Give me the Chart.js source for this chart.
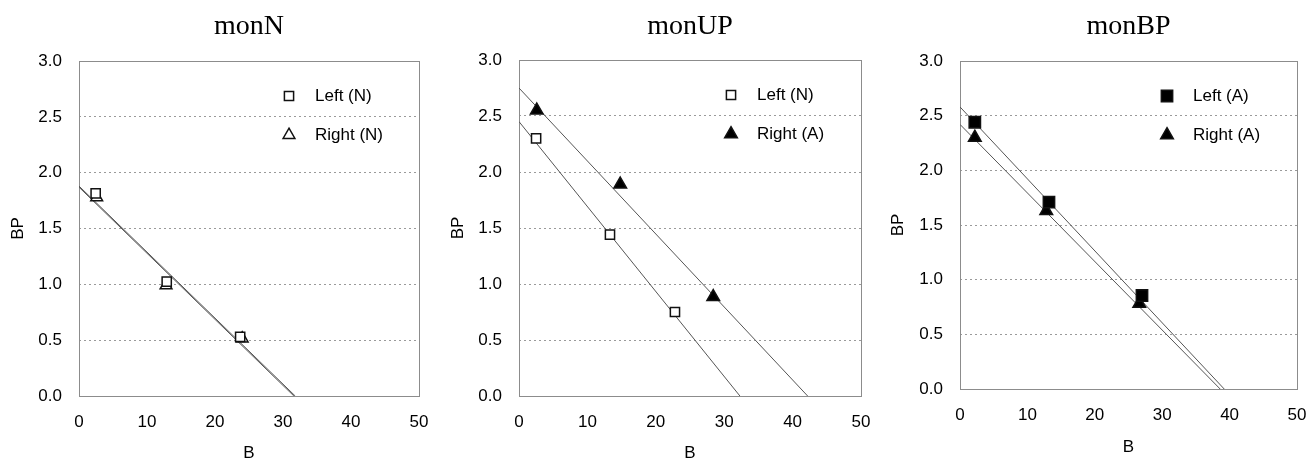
<!DOCTYPE html>
<html>
<head>
<meta charset="utf-8">
<script src="https://cdn.jsdelivr.net/npm/chart.js@4.4.0/dist/chart.umd.min.js"></script>
<style>
  html, body { margin: 0; padding: 0; background: #fff; }
  .panel { position: absolute; top: 0; }
</style>
</head>
<body>
<div class="panel" style="left:0"><canvas id="c1" width="440" height="462"></canvas></div>
<div class="panel" style="left:440px"><canvas id="c2" width="440" height="462"></canvas></div>
<div class="panel" style="left:880px"><canvas id="c3" width="435" height="462"></canvas></div>
<script>
// tick labels
const xTicks = [0, 10, 20, 30, 40, 50];
const yTicks = [0, 0.5, 1.0, 1.5, 2.0, 2.5, 3.0];

// monN
const nLeftB = [2.45, 12.9, 23.7];
const nLeftBP = [1.815, 1.025, 0.53];
const nRightB = [2.6, 12.8, 24.0];
const nRightBP = [1.78, 0.99, 0.515];
const nLeftFitB = [0, 31.8];
const nLeftFitBP = [1.88, 0];
const nRightFitB = [0, 31.6];
const nRightFitBP = [1.87, 0];

// monUP
const upLeftB = [2.5, 13.3, 22.8];
const upLeftBP = [2.30, 1.44, 0.75];
const upRightB = [2.6, 14.8, 28.4];
const upRightBP = [2.55, 1.89, 0.885];
const upLeftFitB = [0, 32.3];
const upLeftFitBP = [2.45, 0];
const upRightFitB = [0, 42.2];
const upRightFitBP = [2.75, 0];

// monBP
const bpLeftB = [2.2, 13.2, 27.0];
const bpLeftBP = [2.44, 1.71, 0.855];
const bpRightB = [2.2, 12.8, 26.6];
const bpRightBP = [2.30, 1.63, 0.78];
const bpLeftFitB = [0, 39.2];
const bpLeftFitBP = [2.58, 0];
const bpRightFitB = [0, 38.6];
const bpRightFitBP = [2.42, 0];

const SANS = '"Liberation Sans", Arial, sans-serif';
const SERIF = '"Liberation Serif", "Times New Roman", serif';
const INK = '#000';

const pts = (xs, ys) => xs.map((x, i) => ({ x: x, y: ys[i] }));

function markers(label, xs, ys, style, filled) {
  let r = style === 'rect' ? 6.5 : 6.8;
  if (filled && style === 'rect') r = 8;
  if (filled && style === 'triangle') r = 7.3;
  return {
    label: label, data: pts(xs, ys), key: true, showLine: false, order: 0,
    pointStyle: style, pointRadius: r,
    backgroundColor: filled ? '#000' : '#fff', borderColor: '#111', borderWidth: 1.5
  };
}
function fit(label, xs, ys) {
  return {
    label: label, data: pts(xs, ys), showLine: true, order: 1,
    pointRadius: 0, borderColor: '#555', borderWidth: 1
  };
}

// thin box around the plot
const frame = {
  id: 'frame',
  beforeDatasetsDraw(chart) {
    const { ctx, chartArea: a } = chart;
    ctx.save();
    ctx.strokeStyle = '#8c8c8c';
    ctx.lineWidth = 1;
    ctx.strokeRect(Math.round(a.left) + 0.5, Math.round(a.top) + 0.5,
      Math.round(a.right - a.left), Math.round(a.bottom - a.top));
    ctx.restore();
  }
};

// legend drawn inside the plot, top right
const key = {
  id: 'key',
  afterDraw(chart) {
    const { ctx, chartArea: a } = chart;
    chart.data.datasets.filter(d => d.key).forEach((d, i) => {
      const x = a.right - 130, y = a.top + 35 + i * 39;
      ctx.save();
      ctx.fillStyle = d.backgroundColor;
      ctx.strokeStyle = d.borderColor;
      ctx.lineWidth = d.borderWidth;
      Chart.helpers.drawPoint(ctx, { pointStyle: d.pointStyle, radius: d.pointRadius, borderWidth: d.borderWidth, rotation: 0 }, x, y);
      ctx.fillStyle = INK;
      ctx.font = '17px ' + SANS;
      ctx.textAlign = 'left';
      ctx.textBaseline = 'middle';
      ctx.fillText(d.label, x + 26, y);
      ctx.restore();
    });
  }
};

function makeChart(id, title, datasets, area) {
  const canvas = document.getElementById(id);
  const H = canvas.height;
  return new Chart(canvas, {
    type: 'scatter',
    data: { datasets: datasets },
    plugins: [frame, key],
    options: {
      responsive: false,
      animation: false,
      events: [],
      layout: { padding: { left: 0, top: 0, bottom: 0, right: canvas.width - area.right } },
      plugins: {
        legend: { display: false },
        tooltip: { enabled: false },
        title: {
          display: true, text: title, color: INK, fullSize: false,
          font: { family: SERIF, size: 28, weight: 'normal' },
          padding: { top: 10, bottom: area.top - 10 - 28 * 1.2 }
        }
      },
      scales: {
        x: {
          type: 'linear', min: 0, max: 50,
          afterBuildTicks: s => { s.ticks = xTicks.map(v => ({ value: v })); },
          afterFit: s => { s.height = H - area.bottom; },
          grid: { display: false },
          border: { display: false },
          ticks: { color: INK, font: { family: SANS, size: 17 }, padding: 8, maxRotation: 0 },
          title: { display: true, text: 'B', color: INK, font: { family: SANS, size: 17, lineHeight: 1 }, padding: { top: 0, bottom: area.xTitlePad } }
        },
        y: {
          type: 'linear', min: 0, max: 3,
          afterBuildTicks: s => { s.ticks = yTicks.map(v => ({ value: v })); },
          afterFit: s => { s.width = area.left; },
          grid: { color: '#9a9a9a', lineWidth: 1, drawTicks: false },
          border: { display: false, dash: [2, 3] },
          ticks: { color: INK, font: { family: SANS, size: 17 }, padding: 17, callback: v => Number(v).toFixed(1) },
          title: { display: true, text: 'BP', color: INK, font: { family: SANS, size: 17 }, padding: { top: 8, bottom: 0 } }
        }
      }
    }
  });
}

makeChart('c1', 'monN', [
  markers('Left (N)', nLeftB, nLeftBP, 'rect', false),
  markers('Right (N)', nRightB, nRightBP, 'triangle', false),
  fit('Left fit', nLeftFitB, nLeftFitBP),
  fit('Right fit', nRightFitB, nRightFitBP)
], { left: 79, right: 419, top: 61, bottom: 396, xTitlePad: 0 });

makeChart('c2', 'monUP', [
  markers('Left (N)', upLeftB, upLeftBP, 'rect', false),
  markers('Right (A)', upRightB, upRightBP, 'triangle', true),
  fit('Left fit', upLeftFitB, upLeftFitBP),
  fit('Right fit', upRightFitB, upRightFitBP)
], { left: 79, right: 421, top: 60, bottom: 396, xTitlePad: 0 });

makeChart('c3', 'monBP', [
  markers('Left (A)', bpLeftB, bpLeftBP, 'rect', true),
  markers('Right (A)', bpRightB, bpRightBP, 'triangle', true),
  fit('Left fit', bpLeftFitB, bpLeftFitBP),
  fit('Right fit', bpRightFitB, bpRightFitBP)
], { left: 80, right: 417, top: 61, bottom: 389, xTitlePad: 6 });
</script>
</body>
</html>
